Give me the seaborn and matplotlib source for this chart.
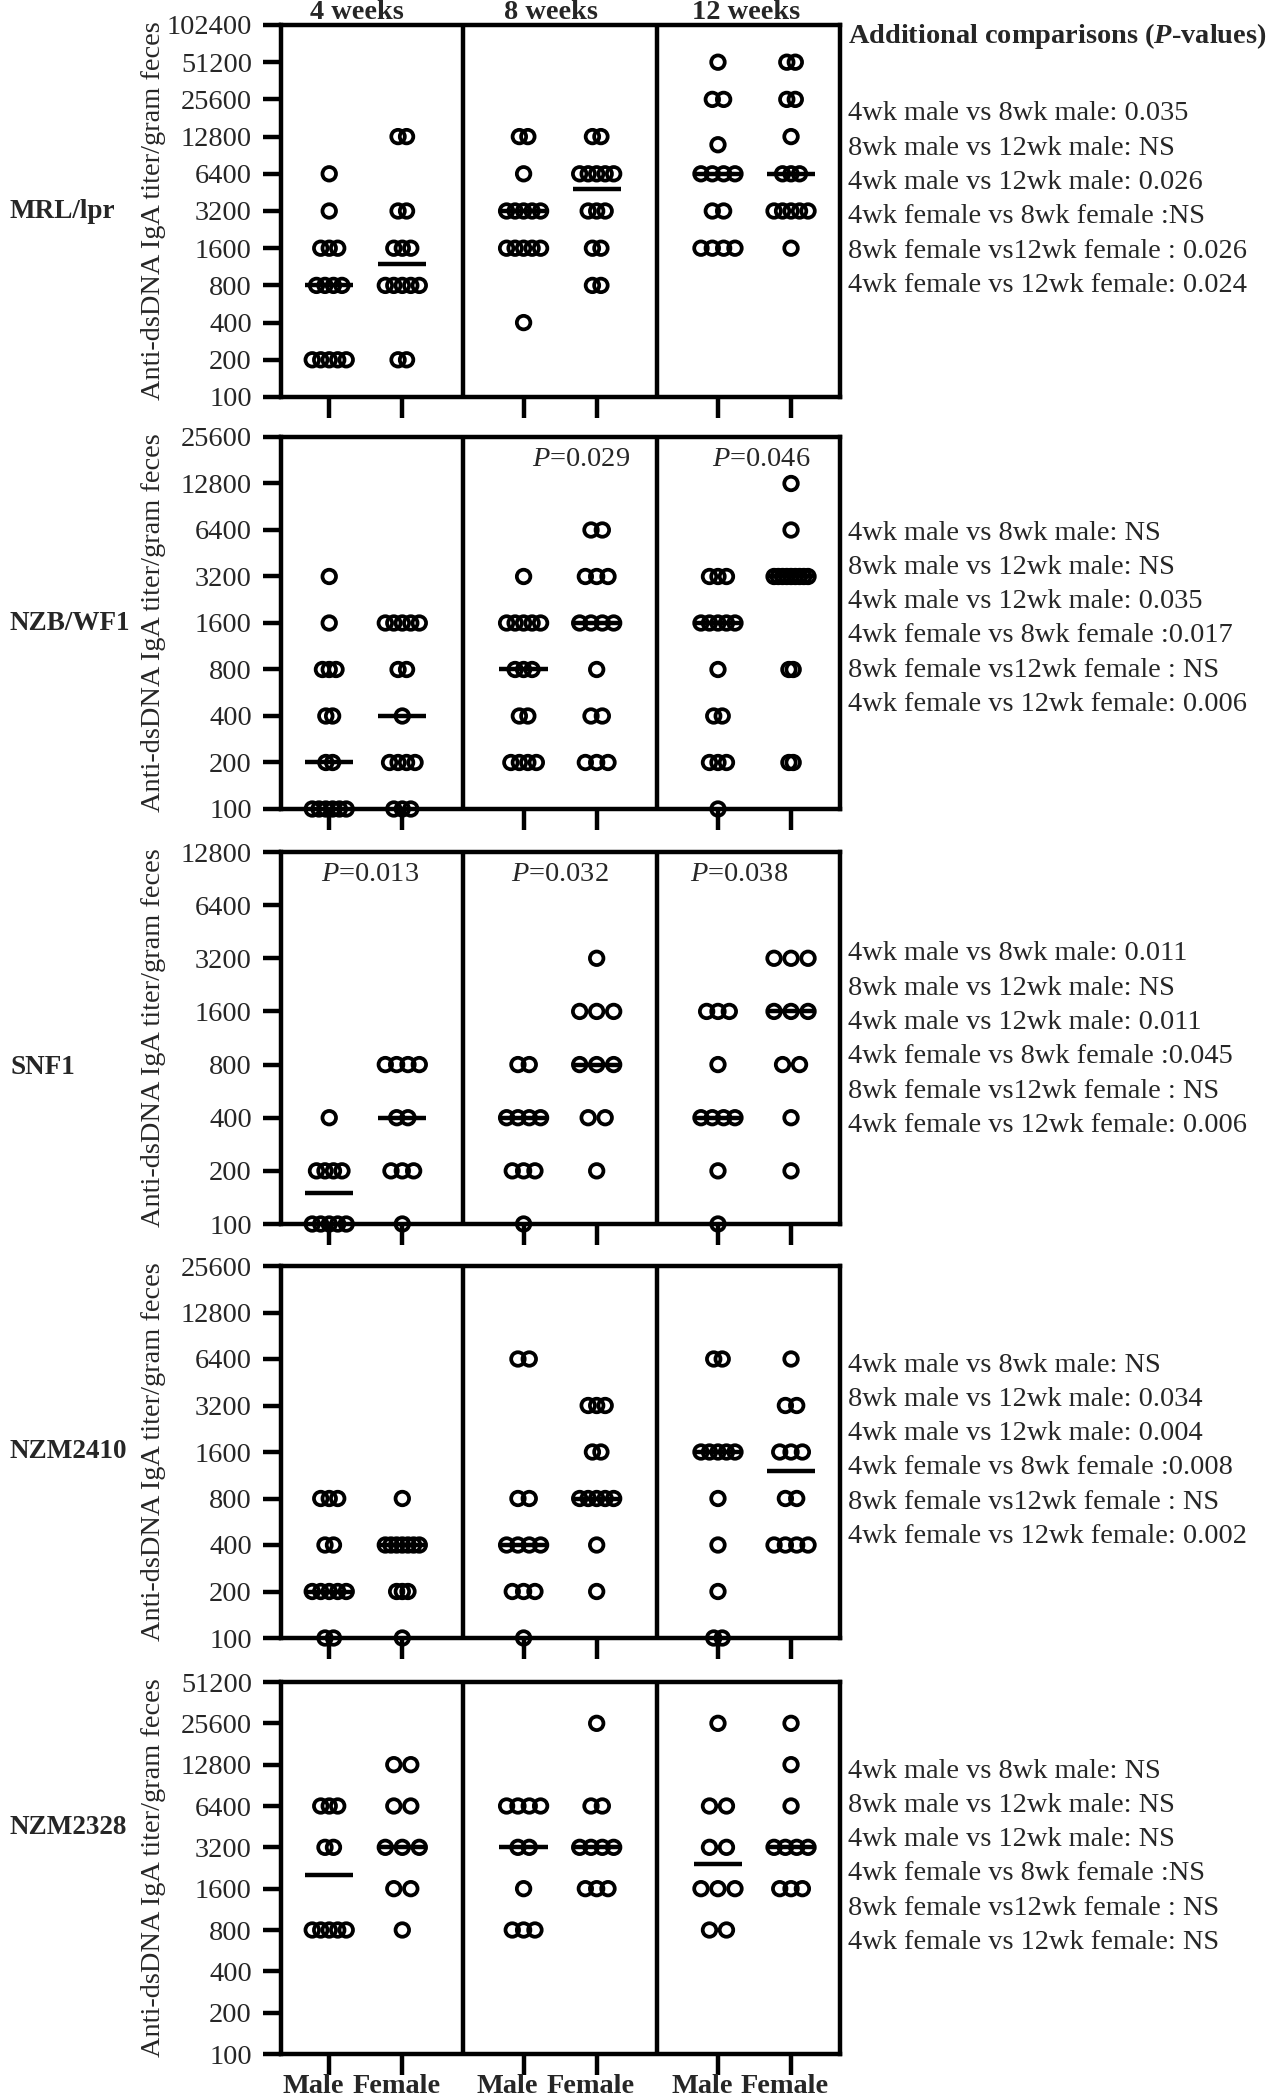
import numpy as np
import pandas as pd
import matplotlib
matplotlib.use('Agg')
import matplotlib.pyplot as plt
import matplotlib.transforms as mtransforms
from matplotlib.ticker import NullLocator
import seaborn as sns

# ------------------------------------------------------------
# data
# ------------------------------------------------------------
strains = ['MRL/lpr', 'NZB/WF1', 'SNF1', 'NZM2410', 'NZM2328']
weeks = ['4 weeks', '8 weeks', '12 weeks']
sex_labels = ['Male', 'Female', 'Male', 'Female', 'Male', 'Female']
y_ticks = [100, 200, 400, 800, 1600, 3200, 6400, 12800, 25600, 51200, 102400]
y_tops = [102400, 25600, 12800, 25600, 51200]

# titers per group, order: 4wk M, 4wk F, 8wk M, 8wk F, 12wk M, 12wk F
mrl_lpr = [
    [6400, 3200] + [1600] * 3 + [800] * 4 + [200] * 5,
    [12800] * 2 + [3200] * 2 + [1600] * 3 + [800] * 5 + [200] * 2,
    [12800] * 2 + [6400] + [3200] * 5 + [1600] * 5 + [400],
    [12800] * 2 + [6400] * 5 + [3200] * 3 + [1600] * 2 + [800] * 2,
    [51200] + [25600] * 2 + [11000] + [6400] * 4 + [3200] * 2 + [1600] * 4,
    [51200] * 2 + [25600] * 2 + [12800] + [6400] * 3 + [3200] * 5 + [1600],
]
nzb_wf1 = [
    [3200, 1600] + [800] * 3 + [400] * 2 + [200] * 2 + [100] * 6,
    [1600] * 5 + [800] * 2 + [400] + [200] * 4 + [100] * 3,
    [3200] + [1600] * 5 + [800] * 3 + [400] * 2 + [200] * 4,
    [6400] * 2 + [3200] * 3 + [1600] * 4 + [800] + [400] * 2 + [200] * 3,
    [3200] * 3 + [1600] * 5 + [800] + [400] * 2 + [200] * 3 + [100],
    [12800, 6400] + [3200] * 9 + [800] * 2 + [200] * 2,
]
snf1 = [
    [400] + [200] * 4 + [100] * 5,
    [800] * 4 + [400] * 2 + [200] * 3 + [100],
    [800] * 2 + [400] * 4 + [200] * 3 + [100],
    [3200] + [1600] * 3 + [800] * 3 + [400] * 2 + [200],
    [1600] * 3 + [800] + [400] * 4 + [200] + [100],
    [3200] * 3 + [1600] * 3 + [800] * 2 + [400] + [200],
]
nzm2410 = [
    [800] * 3 + [400] * 2 + [200] * 5 + [100] * 2,
    [800] + [400] * 7 + [200] * 3 + [100],
    [6400] * 2 + [800] * 2 + [400] * 4 + [200] * 3 + [100],
    [3200] * 3 + [1600] * 2 + [800] * 5 + [400] + [200],
    [6400] * 2 + [1600] * 5 + [800] + [400] + [200] + [100] * 2,
    [6400] + [3200] * 2 + [1600] * 3 + [800] * 2 + [400] * 4,
]
nzm2328 = [
    [6400] * 3 + [3200] * 2 + [800] * 5,
    [12800] * 2 + [6400] * 2 + [3200] * 3 + [1600] * 2 + [800],
    [6400] * 4 + [3200] * 2 + [1600] + [800] * 3,
    [25600] + [6400] * 2 + [3200] * 4 + [1600] * 3,
    [25600] + [6400] * 2 + [3200] * 2 + [1600] * 3 + [800] * 2,
    [25600, 12800, 6400] + [3200] * 4 + [1600] * 3,
]
all_data = [mrl_lpr, nzb_wf1, snf1, nzm2410, nzm2328]

# p-values written inside the panels: (week index, value)
panel_pvals = [
    [],
    [(1, '0.029'), (2, '0.046')],
    [(0, '0.013'), (1, '0.032'), (2, '0.038')],
    [],
    [],
]
# horizontal nudges (x units) of those p-value texts
pval_shift = [[], [0.28, 0.09], [0.06, 0.0, -0.21], [], []]

cmp_labels = ['4wk male vs 8wk male: ', '8wk male vs 12wk male: ',
              '4wk male vs 12wk male: ', '4wk female vs 8wk female :',
              '8wk female vs12wk female : ', '4wk female vs 12wk female: ']
cmp_mrl = ['0.035', 'NS', '0.026', 'NS', '0.026', '0.024']
cmp_nzb = ['NS', 'NS', '0.035', '0.017', 'NS', '0.006']
cmp_snf1 = ['0.011', 'NS', '0.011', '0.045', 'NS', '0.006']
cmp_nzm2410 = ['NS', '0.034', '0.004', '0.008', 'NS', '0.002']
cmp_nzm2328 = ['NS', 'NS', 'NS', 'NS', 'NS', 'NS']
all_cmp = [cmp_mrl, cmp_nzb, cmp_snf1, cmp_nzm2410, cmp_nzm2328]

# ------------------------------------------------------------
# style / layout
# ------------------------------------------------------------
sns.set_style('ticks')
plt.rcParams['font.family'] = ['Liberation Serif', 'DejaVu Serif']
plt.rcParams['mathtext.fontset'] = 'custom'
plt.rcParams['mathtext.rm'] = 'Liberation Serif'
plt.rcParams['mathtext.it'] = 'Liberation Serif:italic'
plt.rcParams['mathtext.bf'] = 'Liberation Serif:bold'
plt.rcParams['mathtext.bfit'] = 'Liberation Serif:italic:bold'

FS = 20.4
LW = 3.2
W, H = 1267, 2100
ax_left, ax_right = 281, 840
panel_tops = [25, 437, 852, 1266, 1682]
panel_h = 372
x_pos = [0, 1, 2.66, 3.66, 5.32, 6.32]
x_lim = (-0.66, 6.99)
dividers = [1.83, 4.49]
px_unit = (ax_right - ax_left) / (x_lim[1] - x_lim[0])
label_frac = [0.5, 0.5, 0.42, 0.5, 0.61]
text_first = [114, 533, 954, 1365, 1771]
text_step = 34.3
sex_label_dx = [-16, -6, -16, -6, -16, -6]   # px nudges of the bottom labels
sex_label_bottom = 2099                      # px from top of figure

fig = plt.figure(figsize=(W / 100, H / 100), dpi=100)

for p, groups in enumerate(all_data):
    bottom = 1 - (panel_tops[p] + panel_h) / H
    ax = fig.add_axes([ax_left / W, bottom, (ax_right - ax_left) / W, panel_h / H])
    ax.set_yscale('log', base=2)

    # spread tied values sideways, GraphPad style
    rows = []
    for g, vals in enumerate(groups):
        uniq, counts = np.unique(vals, return_counts=True)
        nmax = counts.max()
        step = (min(18, 34 / (nmax - 1)) if nmax > 1 else 0) / px_unit
        for u, c in zip(uniq, counts):
            for i in range(c):
                rows.append({'x': x_pos[g] + (i - (c - 1) / 2) * step, 'titer': u})
    df = pd.DataFrame(rows)

    sns.scatterplot(data=df, x='x', y='titer', ax=ax, marker='o', s=95,
                    facecolor='none', edgecolor='black', linewidth=2.7,
                    clip_on=False, legend=False, zorder=4)

    for g, vals in enumerate(groups):
        ax.hlines(np.median(vals), x_pos[g] - 0.33, x_pos[g] + 0.33,
                  color='black', lw=3.2, zorder=5)

    for d in dividers:
        ax.axvline(d, color='black', lw=LW, zorder=2)

    ticks = [t for t in y_ticks if t <= y_tops[p]]
    ax.set_ylim(100, y_tops[p])
    ax.set_yticks(ticks)
    ax.set_yticklabels([str(t) for t in ticks])
    ax.yaxis.set_minor_locator(NullLocator())
    ax.set_xlim(*x_lim)
    ax.set_xticks(x_pos)
    ax.set_xticklabels([''] * 6)
    ax.set_xlabel('')
    ax.set_ylabel('Anti-dsDNA IgA titer/gram feces', fontsize=FS)
    ax.yaxis.set_label_coords(-0.205, 0.5)

    for s in ax.spines.values():
        s.set_visible(True)
        s.set_linewidth(LW)
        s.set_color('black')
    ax.tick_params(axis='both', direction='out', length=13, width=LW,
                   labelsize=FS, color='black')
    ax.tick_params(axis='y', pad=8)
    ax.tick_params(axis='x', length=15)

    trans = mtransforms.blended_transform_factory(ax.transData, ax.transAxes)
    if p == 0:
        for w, name in enumerate(weeks):
            cx = (x_pos[2 * w] + x_pos[2 * w + 1]) / 2 - 0.12
            ax.text(cx, 1.016, name, transform=trans, ha='center', va='baseline',
                    fontsize=FS, fontweight='bold')
    if p == len(all_data) - 1:
        yb = -(sex_label_bottom - (panel_tops[p] + panel_h)) / panel_h
        for xp, lab, dx in zip(x_pos, sex_labels, sex_label_dx):
            ax.text(xp + dx / px_unit, yb, lab, transform=trans, ha='center',
                    va='bottom', fontsize=FS, fontweight='bold')
    for (w, val), sh in zip(panel_pvals[p], pval_shift[p]):
        cx = (x_pos[2 * w] + x_pos[2 * w + 1]) / 2 + sh
        ax.text(cx, 0.94, r'$\mathit{P}$=' + val, transform=trans,
                ha='center', va='center', fontsize=FS)

    # strain name on the far left
    ly = 1 - (panel_tops[p] + (1 - label_frac[p]) * panel_h) / H
    fig.text(10 / W, ly, strains[p], ha='left', va='center',
             fontsize=19.5, fontweight='bold')

    # additional comparisons on the right
    for k, (lab, val) in enumerate(zip(cmp_labels, all_cmp[p])):
        ty = 1 - (text_first[p] + k * text_step) / H
        fig.text(848 / W, ty, lab + val, ha='left', va='center', fontsize=FS)

fig.text(848 / W, 1 - 36 / H, r'Additional comparisons ($\mathbfit{P}$-values)',
         ha='left', va='center', fontsize=FS, fontweight='bold')

fig.savefig('out.png', dpi=100)
